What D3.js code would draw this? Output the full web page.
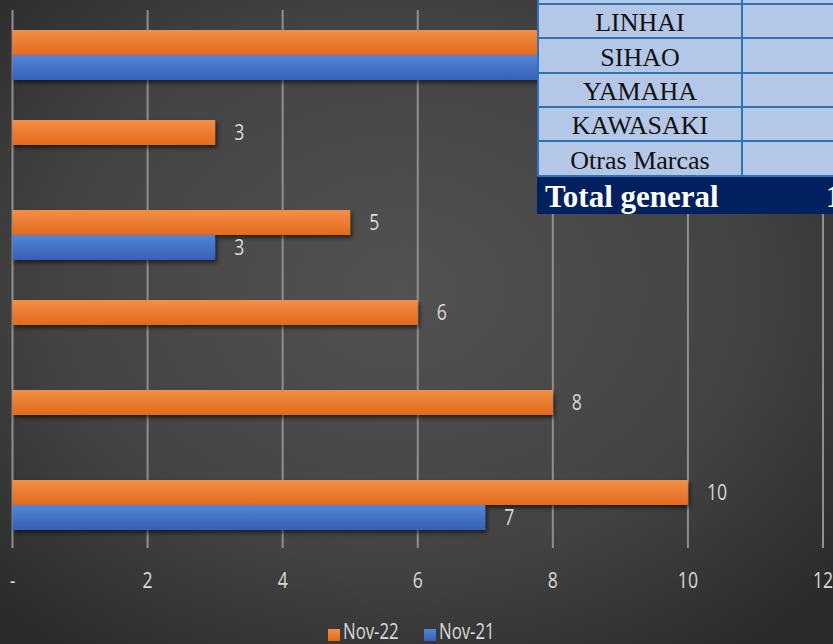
<!DOCTYPE html>
<html>
<head>
<meta charset="utf-8">
<script src="https://cdn.jsdelivr.net/npm/d3@7"></script>
<style>
  body { margin: 0; padding: 0; overflow: hidden; background: #333; }
  svg { display: block; }
  .narrow { font-family: "Open Sans", sans-serif; font-size: 22px; fill: #d9d9d9; }
  .legend-text { font-size: 21px; }
  .cell-text { font-family: "Liberation Serif", serif; font-size: 26px; fill: #111; }
  .total-text { font-family: "Liberation Serif", serif; font-size: 31px; font-weight: bold; fill: #fff; }
</style>
</head>
<body>
<div id="chart"></div>
<script>
///////////////////////////////////////////////////////////////////////////
//////////////////////////////// Data /////////////////////////////////////
///////////////////////////////////////////////////////////////////////////
var categories = ["cat1", "cat2", "cat3", "cat4", "cat5", "cat6"];
var seriesNames = ["Nov-22", "Nov-21"];
var nov22 = [11, 3, 5, 6, 8, 10];
var nov21 = [9, 0, 3, 0, 0, 7];
var xTicks = [0, 2, 4, 6, 8, 10, 12];
var xTickLabels = ["-", "2", "4", "6", "8", "10", "12"];

var tableRows = ["", "LINHAI", "SIHAO", "YAMAHA", "KAWASAKI", "Otras Marcas"];
var tableTotalLabel = "Total general";
var tableTotalValue = "1";

var seriesColors = [
	{ top: "#f38f48", bottom: "#e36a1c" },
	{ top: "#5286d8", bottom: "#3660b5" }
];

///////////////////////////////////////////////////////////////////////////
//////////////////////////// Set up the SVG ///////////////////////////////
///////////////////////////////////////////////////////////////////////////
var W = 833, H = 644;
var svg = d3.select("#chart").append("svg")
	.attr("width", W)
	.attr("height", H);

var defs = svg.append("defs");

var bg = defs.append("radialGradient")
	.attr("id", "bg")
	.attr("cx", "48%").attr("cy", "45%").attr("r", "70%");
bg.append("stop").attr("offset", "0%").attr("stop-color", "#525252");
bg.append("stop").attr("offset", "60%").attr("stop-color", "#434343");
bg.append("stop").attr("offset", "100%").attr("stop-color", "#2a2a2a");

seriesColors.forEach(function(c, i) {
	var g = defs.append("linearGradient")
		.attr("id", "bar" + i)
		.attr("x1", 0).attr("y1", 0).attr("x2", 0).attr("y2", 1);
	g.append("stop").attr("offset", "0%").attr("stop-color", c.top);
	g.append("stop").attr("offset", "100%").attr("stop-color", c.bottom);
});

var shadow = defs.append("filter").attr("id", "shadow")
	.attr("x", "-10%").attr("y", "-30%").attr("width", "130%").attr("height", "180%");
shadow.append("feDropShadow")
	.attr("dx", 2).attr("dy", 3).attr("stdDeviation", 2)
	.attr("flood-color", "#000").attr("flood-opacity", 0.55);

svg.append("rect")
	.attr("width", W).attr("height", H)
	.attr("fill", "url(#bg)");

//narrow text (Calibri look-alike: squeeze Open Sans horizontally)
function narrowText(sel, x, y, txt, anchor) {
	return sel.append("text")
		.attr("class", "narrow")
		.attr("transform", "translate(" + x + "," + y + ") scale(0.8,1)")
		.attr("text-anchor", anchor || "start")
		.attr("dy", "0.35em")
		.text(txt);
}

///////////////////////////////////////////////////////////////////////////
////////////////////////// Create the scales //////////////////////////////
///////////////////////////////////////////////////////////////////////////
var xScale = d3.scaleLinear()
	.domain([0, 12])
	.range([12.5, 823]);

var yScale = d3.scaleBand()
	.domain(categories)
	.range([10, 550]);

var subScale = d3.scaleBand()
	.domain(seriesNames)
	.range([0, 50]);

var bandOffset = (yScale.bandwidth() - 50) / 2;

///////////////////////////////////////////////////////////////////////////
////////////////////////////// Gridlines //////////////////////////////////
///////////////////////////////////////////////////////////////////////////
svg.append("g").selectAll("line")
	.data(xTicks)
	.enter().append("line")
	.attr("x1", function(d) { return xScale(d); })
	.attr("x2", function(d) { return xScale(d); })
	.attr("y1", 10)
	.attr("y2", 548)
	.attr("stroke", "#8f8f8f")
	.attr("stroke-width", 2);

var tickG = svg.append("g");
xTicks.forEach(function(d, i) {
	narrowText(tickG, xScale(d), 580, xTickLabels[i], "middle");
});

///////////////////////////////////////////////////////////////////////////
/////////////////////////////// Bars //////////////////////////////////////
///////////////////////////////////////////////////////////////////////////
var rows = categories.map(function(c, i) {
	return { cat: c, values: [nov22[i], nov21[i]] };
});

var rowGroup = svg.append("g").selectAll(".row")
	.data(rows)
	.enter().append("g")
	.attr("class", "row")
	.attr("transform", function(d) { return "translate(0," + (yScale(d.cat) + bandOffset) + ")"; });

rowGroup.selectAll("rect")
	.data(function(d) {
		return d.values.map(function(v, i) { return { s: i, v: v }; }).filter(function(e) { return e.v > 0; });
	})
	.enter().append("rect")
	.attr("x", xScale(0))
	.attr("y", function(d) { return subScale(seriesNames[d.s]); })
	.attr("width", function(d) { return xScale(d.v) - xScale(0); })
	.attr("height", subScale.bandwidth())
	.attr("fill", function(d) { return "url(#bar" + d.s + ")"; })
	.attr("filter", "url(#shadow)");

//value labels (the top row's labels sit under the table, so skip them)
var tableLeft = 538, tableBottom = 214;
rowGroup.each(function(d) {
	var g = d3.select(this);
	var top = yScale(d.cat) + bandOffset;
	d.values.forEach(function(v, i) {
		if (v <= 0) return;
		var lx = xScale(v) + 19;
		var ly = subScale(seriesNames[i]) + subScale.bandwidth() / 2;
		if (lx > tableLeft && top + ly < tableBottom) return;
		narrowText(g, lx, ly, v, "start");
	});
});

///////////////////////////////////////////////////////////////////////////
/////////////////////////////// Legend ////////////////////////////////////
///////////////////////////////////////////////////////////////////////////
var legend = svg.append("g").attr("transform", "translate(328,634)");
var legendX = [0, 96];
seriesNames.forEach(function(name, i) {
	legend.append("rect")
		.attr("x", legendX[i]).attr("y", -5)
		.attr("width", 12).attr("height", 12)
		.attr("fill", "url(#bar" + i + ")");
	narrowText(legend, legendX[i] + 15, -2, name, "start")
		.classed("legend-text", true);
});

///////////////////////////////////////////////////////////////////////////
//////////////////////////// Table overlay ////////////////////////////////
///////////////////////////////////////////////////////////////////////////
var table = svg.append("g");
var tLeft = 538, tDiv = 742, tRight = 900;
var rowTops = [-30, 4, 38, 73, 107, 141, 176];

tableRows.forEach(function(name, i) {
	var y0 = rowTops[i], y1 = rowTops[i + 1];
	table.append("rect")
		.attr("x", tLeft).attr("y", y0)
		.attr("width", tRight - tLeft).attr("height", y1 - y0)
		.attr("fill", "#b4c7e7");
	if (name) {
		table.append("text")
			.attr("class", "cell-text")
			.attr("x", (tLeft + tDiv) / 2)
			.attr("y", (y0 + y1) / 2 + 1)
			.attr("dy", "0.35em")
			.attr("text-anchor", "middle")
			.text(name);
	}
});

// cell borders
rowTops.forEach(function(y) {
	table.append("line")
		.attr("x1", tLeft).attr("x2", tRight)
		.attr("y1", y).attr("y2", y)
		.attr("stroke", "#2e75b6").attr("stroke-width", 2);
});
[tLeft, tDiv].forEach(function(x) {
	table.append("line")
		.attr("x1", x).attr("x2", x)
		.attr("y1", -30).attr("y2", 176)
		.attr("stroke", "#2e75b6").attr("stroke-width", 2);
});

// total row
table.append("rect")
	.attr("x", tLeft - 1).attr("y", 177)
	.attr("width", tRight - tLeft).attr("height", 37)
	.attr("fill", "#002060");
table.append("text")
	.attr("class", "total-text")
	.attr("x", 545)
	.attr("y", 196)
	.attr("dy", "0.35em")
	.text(tableTotalLabel);
table.append("text")
	.attr("class", "total-text")
	.attr("x", 826)
	.attr("y", 196)
	.attr("dy", "0.35em")
	.text(tableTotalValue);
</script>
</body>
</html>
